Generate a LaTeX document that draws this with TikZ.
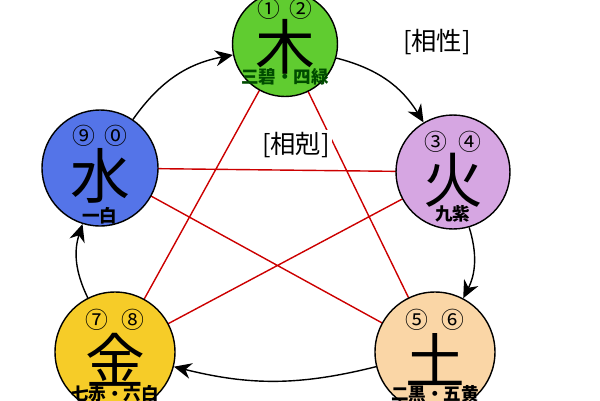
\documentclass[tikz,border=0pt]{standalone}
\usepackage{fontspec}
\setmainfont{Noto Sans CJK JP}
\usetikzlibrary{arrows.meta}
\definecolor{mugreen}{RGB}{96,204,48}
\definecolor{kalilac}{RGB}{214,166,226}
\definecolor{dopeach}{RGB}{250,214,166}
\definecolor{kinyellow}{RGB}{246,204,40}
\definecolor{suiblue}{RGB}{84,116,232}
\tikzset{
  elem/.style={circle,draw=black,thick,fill=#1},
  big/.style={font=\fontsize{34}{34}\selectfont},
  num/.style={font=\fontsize{13}{13}\selectfont},
  sub/.style={font=\fontsize{10}{10}\selectfont\bfseries},
  star/.style={red!80!black,line width=0.8pt},
  cyc/.style={-{Stealth[length=10pt,width=9pt]},thick}
}
\begin{document}
\begin{tikzpicture}[x=0.02cm,y=-0.02cm]
  \useasboundingbox (0,0) rectangle (600,400);
  \clip (0,0) rectangle (600,400);
  % five elements
  \coordinate (mu) at (285,44);
  \coordinate (ka) at (453,172);
  \coordinate (do) at (435,352);
  \coordinate (ki) at (115,352);
  \coordinate (su) at (100,168);
  % star
  \draw[star] (mu) -- (do) (mu) -- (ki) (ka) -- (su) (ka) -- (ki) (su) -- (do);
  \node[elem=mugreen,minimum size=2.1cm] (m) at (mu) {};
  \node[elem=kalilac,minimum size=2.28cm] (k) at (ka) {};
  \node[elem=dopeach,minimum size=2.4cm] (d) at (do) {};
  \node[elem=kinyellow,minimum size=2.4cm] (g) at (ki) {};
  \node[elem=suiblue,minimum size=2.32cm] (s) at (su) {};
  % cycle
  \draw[cyc] (m) to[bend left=22] (k);
  \draw[cyc] (k) to[bend left=22] (d);
  \draw[cyc] (d) to[bend left=14] (g);
  \draw[cyc] (g) to[bend left=22] (s);
  \draw[cyc] (s) to[bend left=22] (m);
  % texts
  \node[num] at ([shift={(-16,-35)}]mu) {①};
  \node[num] at ([shift={(16,-35)}]mu) {②};
  \node[big] at ([shift={(0,3)}]mu) {木};
  \node[sub,text=green!30!black] at ([shift={(0,33)}]mu) {三碧・四緑};
  \node[num] at ([shift={(-17,-30)}]ka) {③};
  \node[num] at ([shift={(17,-30)}]ka) {④};
  \node[big] at ([shift={(0,8)}]ka) {火};
  \node[sub] at ([shift={(0,42)}]ka) {九紫};
  \node[num] at ([shift={(-18,-32)}]do) {⑤};
  \node[num] at ([shift={(18,-32)}]do) {⑥};
  \node[big] at ([shift={(0,8)}]do) {土};
  \node[sub] at ([shift={(0,42)}]do) {二黒・五黄};
  \node[num] at ([shift={(-18,-32)}]ki) {⑦};
  \node[num] at ([shift={(18,-32)}]ki) {⑧};
  \node[big] at ([shift={(0,8)}]ki) {金};
  \node[sub] at ([shift={(0,42)}]ki) {七赤・六白};
  \node[num] at ([shift={(-16,-32)}]su) {⑨};
  \node[num] at ([shift={(16,-32)}]su) {⓪};
  \node[big] at ([shift={(0,8)}]su) {水};
  \node[sub] at ([shift={(0,48)}]su) {一白};
  % labels
  \node[font=\Large] (xs) at (437,42) {[相性]};
  \node[font=\Large,fill=white,inner sep=1pt] (xk) at (296,145) {[相剋]};
\end{tikzpicture}
\end{document}
